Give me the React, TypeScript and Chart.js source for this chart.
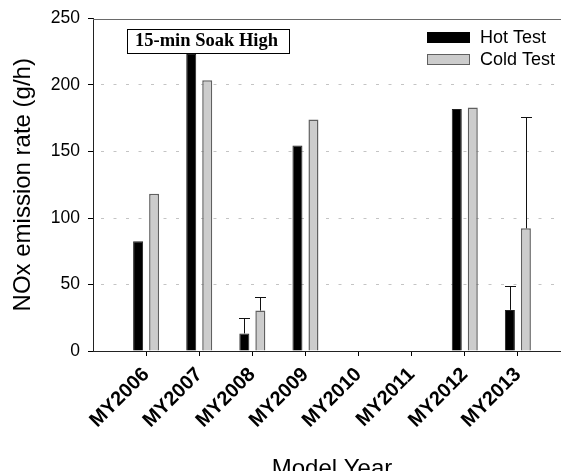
import React, { useEffect, useRef } from 'react';
import { Chart, registerables } from 'chart.js';

Chart.register(...registerables);

// ---- data ----
const categories = [2006, 2007, 2008, 2009, 2010, 2011, 2012, 2013];
const tickLabels = ['MY2006', 'MY2007', 'MY2008', 'MY2009', 'MY2010', 'MY2011', 'MY2012', 'MY2013'];
const seriesLabels = ['Hot Test', 'Cold Test'];
const hotValues: (number | null)[] = [82.5, 223.4, 13.2, 154.6, null, null, 182.0, 30.9];
const coldValues: (number | null)[] = [118.2, 203.6, 30.4, 174.0, null, null, 183.0, 92.2];
const hotErrors: (number | null)[] = [null, null, 11.7, null, null, null, null, 17.9];
const coldErrors: (number | null)[] = [null, null, 10.2, null, null, null, null, 83.8];
const yTicks = [0, 50, 100, 150, 200, 250];
const xMin = 2005;
const xMax = 2014;
const yTitle = 'NOx emission rate (g/h)';
const xTitle = 'Model Year';
const annotationText = '15-min Soak High';

const SANS = "'Liberation Sans', Arial, sans-serif";
const SERIF = "'Liberation Serif', 'Times New Roman', serif";
const W = 571;
const H = 490;

const hotFill = '#000000';
const coldFill = '#cccccc';
const coldBorder = '#606060';

const errorBarPlugin = {
  id: 'errorBars',
  afterDatasetsDraw(chart: any) {
    const ctx = chart.ctx;
    const yScale = chart.scales.y;
    const errs = [hotErrors, coldErrors];
    const vals = [hotValues, coldValues];
    ctx.save();
    ctx.strokeStyle = '#111';
    ctx.lineWidth = 1;
    errs.forEach((errArr, d) => {
      const meta = chart.getDatasetMeta(d);
      errArr.forEach((e, i) => {
        const v = vals[d][i];
        if (e == null || v == null) return;
        const el = meta.data[i];
        if (!el) return;
        const x = Math.round(el.x) + 0.5;
        const y0 = el.y;
        const y1 = Math.round(yScale.getPixelForValue(v + e)) + 0.5;
        ctx.beginPath();
        ctx.moveTo(x, y0);
        ctx.lineTo(x, y1);
        ctx.moveTo(x - 5.5, y1);
        ctx.lineTo(x + 5.5, y1);
        ctx.stroke();
      });
    });
    ctx.restore();
  },
};

const decorPlugin = {
  id: 'decor',
  afterDraw(chart: any) {
    const ctx = chart.ctx;
    const a = chart.chartArea;
    ctx.save();
    // top frame line
    ctx.strokeStyle = '#6a6a6a';
    ctx.lineWidth = 1;
    ctx.beginPath();
    ctx.moveTo(a.left, Math.round(a.top) + 0.5);
    ctx.lineTo(a.right, Math.round(a.top) + 0.5);
    ctx.stroke();

    // annotation box
    const bx = a.left + 33.5;
    const by = a.top + 10;
    const bw = 162;
    const bh = 23.5;
    ctx.strokeStyle = '#000';
    ctx.lineWidth = 1;
    ctx.strokeRect(Math.round(bx) + 0.5, Math.round(by) + 0.5, Math.round(bw), Math.round(bh));
    ctx.fillStyle = '#000';
    ctx.font = `bold 18.5px ${SERIF}`;
    ctx.textAlign = 'center';
    ctx.textBaseline = 'middle';
    ctx.fillText(annotationText, bx + bw / 2 - 1, by + bh / 2 + 1);

    // legend
    const lx = a.left + 334;
    const fills = [hotFill, coldFill];
    const borders = ['#000', coldBorder];
    const ys = [a.top + 13.5, a.top + 35.5];
    ctx.font = `18px ${SANS}`;
    ctx.textAlign = 'left';
    ctx.textBaseline = 'middle';
    seriesLabels.forEach((lab, k) => {
      ctx.fillStyle = fills[k];
      ctx.fillRect(lx, ys[k], 43, 11);
      ctx.strokeStyle = borders[k];
      ctx.lineWidth = 1;
      ctx.strokeRect(Math.round(lx) + 0.5, Math.round(ys[k]) + 0.5, 42, 10);
      ctx.fillStyle = '#000';
      ctx.fillText(lab, lx + 53, ys[k] + 6);
    });
    ctx.restore();
  },
};

export default function App() {
  const ref = useRef<HTMLCanvasElement>(null);
  useEffect(() => {
    if (!ref.current) return;
    Chart.defaults.font.family = SANS;
    Chart.defaults.color = '#000';
    const chart = new Chart(ref.current, {
      type: 'bar',
      data: {
        datasets: [
          {
            label: seriesLabels[0],
            data: categories.map((c, i) => ({ x: c, y: hotValues[i] })) as any,
            backgroundColor: hotFill,
            borderColor: '#222',
            borderWidth: 1,
            categoryPercentage: 0.6026,
            barPercentage: 0.625,
          },
          {
            label: seriesLabels[1],
            data: categories.map((c, i) => ({ x: c, y: coldValues[i] })) as any,
            backgroundColor: coldFill,
            borderColor: coldBorder,
            borderWidth: 1.5,
            categoryPercentage: 0.6026,
            barPercentage: 0.625,
          },
        ],
      },
      options: {
        responsive: false,
        animation: false,
        layout: { padding: { top: 16.5, left: 0, right: 0, bottom: 0 } },
        plugins: {
          legend: { display: false },
          tooltip: { enabled: false },
        },
        scales: {
          x: {
            type: 'linear',
            min: xMin,
            max: xMax,
            offset: false,
            afterBuildTicks: (s: any) => {
              s.ticks = categories.map((v) => ({ value: v }));
            },
            afterFit: (s: any) => {
              s.height = H - 351;
            },
            ticks: {
              autoSkip: false,
              minRotation: 45,
              maxRotation: 45,
              padding: 7,
              color: '#000',
              font: { size: 20, weight: 'bold', family: SANS },
              callback: (v: any) => {
                const i = categories.indexOf(Number(v));
                return i >= 0 ? tickLabels[i] : '';
              },
            },
            grid: {
              display: true,
              offset: false,
              drawOnChartArea: false,
              drawTicks: true,
              tickLength: 5,
              tickColor: '#000',
              color: '#000',
            },
            border: { display: true, color: '#222', width: 1 },
            title: {
              display: true,
              text: xTitle,
              color: '#000',
              font: { size: 24, family: SANS },
              padding: { top: 0, bottom: 6 },
            },
          },
          y: {
            type: 'linear',
            min: 0,
            max: 250,
            afterBuildTicks: (s: any) => {
              s.ticks = yTicks.map((v) => ({ value: v }));
            },
            afterFit: (s: any) => {
              s.width = 93;
            },
            ticks: {
              padding: 8,
              color: '#000',
              font: { size: 17.5, family: SANS },
            },
            grid: {
              display: true,
              drawTicks: true,
              tickLength: 5,
              tickColor: '#000',
              lineWidth: 1,
              color: (c: any) =>
                c.tick && (c.tick.value === 0 || c.tick.value === 250) ? 'rgba(0,0,0,0)' : '#c4c4c4',
            },
            border: { display: true, color: '#222', width: 1, dash: [3, 9.5], dashOffset: 5.5 },
            title: {
              display: true,
              text: yTitle,
              color: '#000',
              font: { size: 24, family: SANS },
              padding: { top: 9, bottom: 0 },
            },
          },
        },
      },
      plugins: [errorBarPlugin, decorPlugin],
    });
    return () => chart.destroy();
  }, []);
  return (
    <div style={{ position: 'fixed', left: 0, top: 0, width: W, height: H }}>
      <canvas ref={ref} width={W} height={H} style={{ display: 'block' }} />
    </div>
  );
}
